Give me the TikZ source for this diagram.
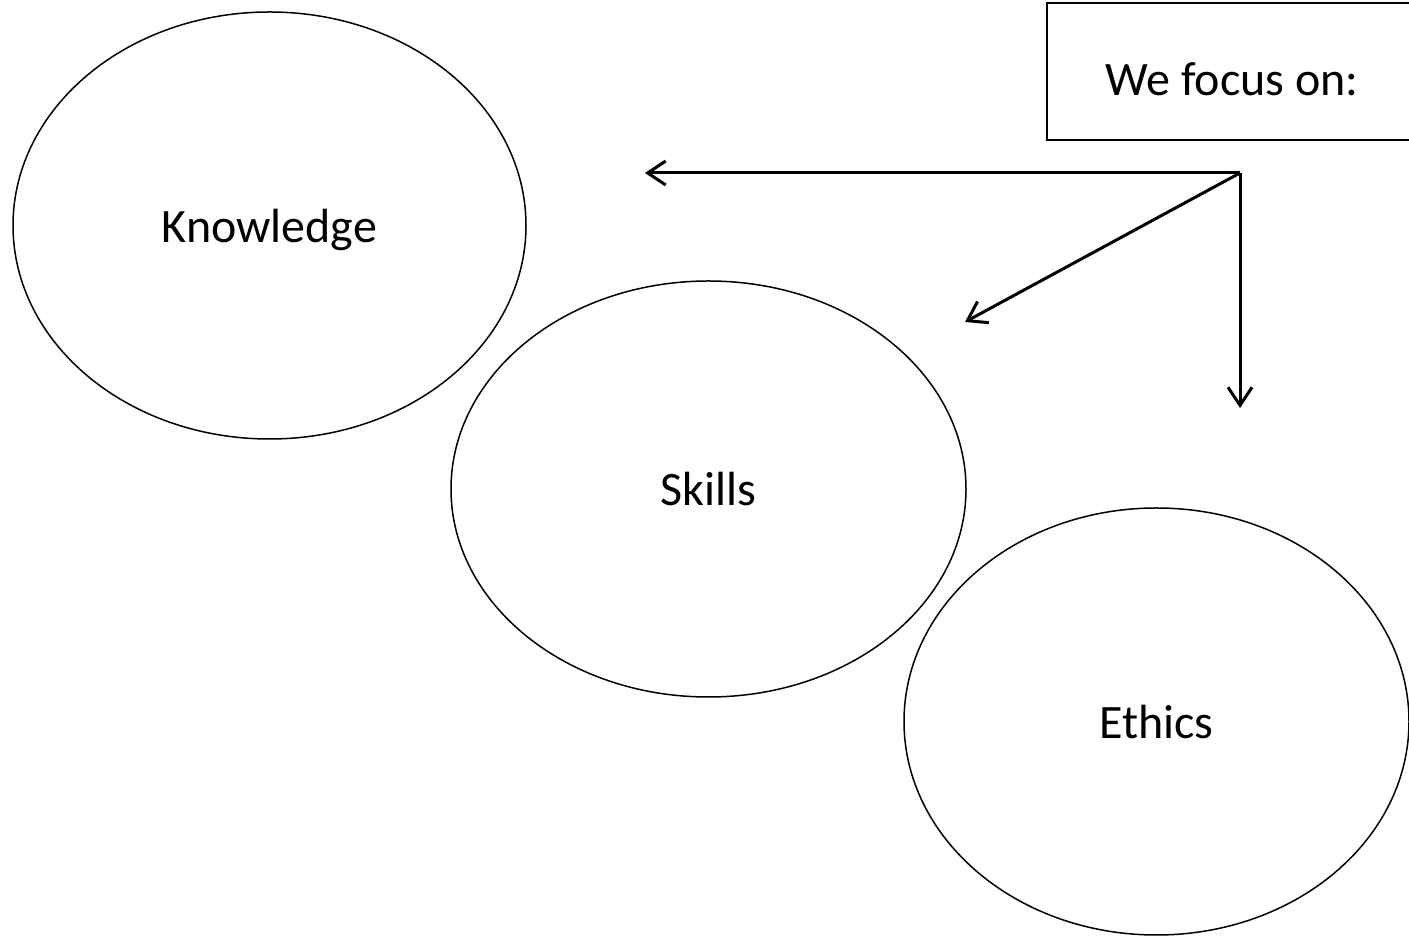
\documentclass[tikz,border=0pt]{standalone}
\usepackage{fontspec}
\setmainfont{Carlito}
\usetikzlibrary{shapes.geometric,arrows.meta}
\tikzset{
  bigtext/.style={font=\fontsize{48}{57}\selectfont, text depth=0pt, inner sep=0pt},
  oval/.style={draw, ellipse, line width=1.5pt, bigtext},
  focusbox/.style={draw, rectangle, line width=1.8pt, inner sep=0pt},
  link/.style={line width=3pt, -{Straight Barb[length=18pt,width=24pt,line width=3pt]}}
}
\begin{document}
\begin{tikzpicture}[x=1pt,y=1pt]
\useasboundingbox (0,0) rectangle (1409,937);
\clip (0,0) rectangle (1409,937);
\node[oval, minimum width=513pt, minimum height=427pt] (know) at (269.5,711.5) {Knowledge};
\node[oval, minimum width=515pt, minimum height=416pt] (skills) at (708.5,448) {Skills};
\node[oval, minimum width=505pt, minimum height=427pt] (ethics) at (1156.5,215.5) {Ethics};
\node[focusbox, minimum width=373pt, minimum height=137pt] (focus) at (1233.5,865.5) {};
\node[bigtext] (focustext) at (1232,858) {We focus on:};
\coordinate (hub) at (1240,764);
\coordinate (tk) at (645,764);
\coordinate (ts) at (965,615);
\coordinate (te) at (1240,529);
\draw[link] (hub) -- (tk);
\draw[link] (hub) -- (ts);
\draw[link] (hub) -- (te);
\end{tikzpicture}
\end{document}
